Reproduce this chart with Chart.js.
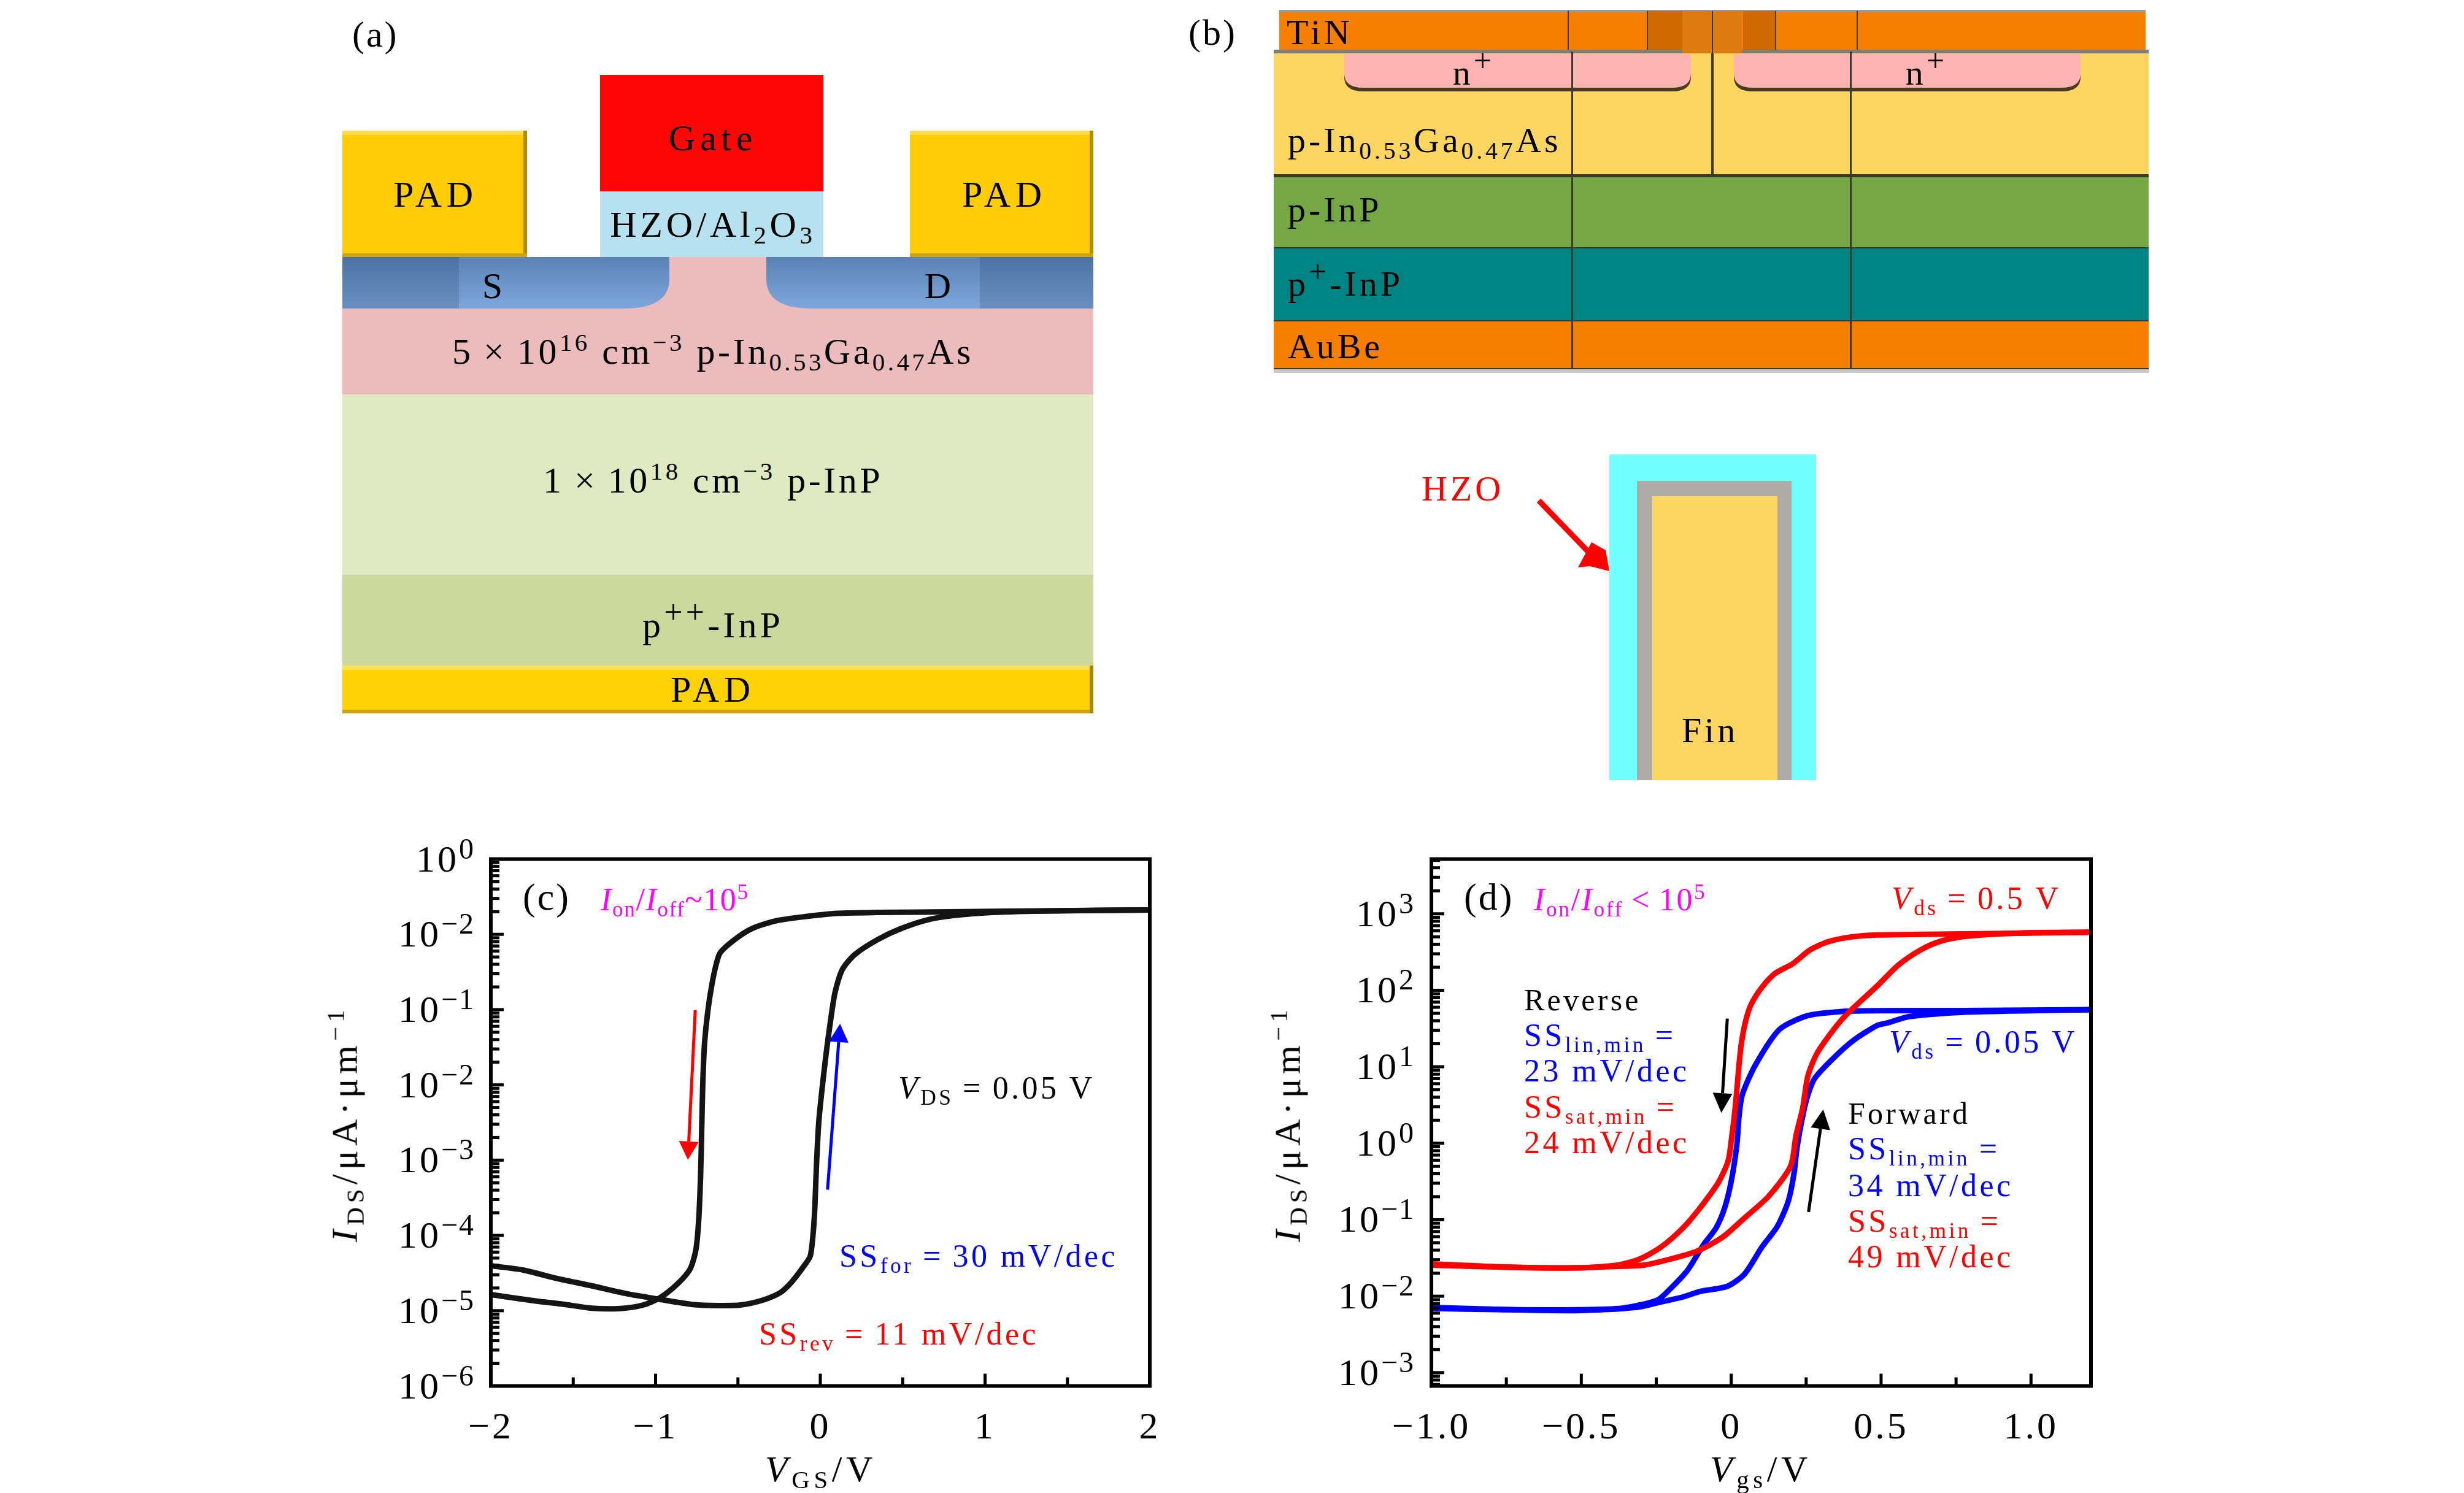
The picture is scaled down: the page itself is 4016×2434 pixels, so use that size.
<!DOCTYPE html>
<html lang="en">

<head>
    <meta charset="UTF-8">
    <title>HZO ferroelectric FinFET</title>
    <script src="https://cdn.jsdelivr.net/npm/chart.js"></script>
    <style>
        html, body { margin: 0; padding: 0; background: #fff; }
        #page { position: relative; width: 4016px; height: 2434px; overflow: hidden; font-family: "Liberation Serif", serif; }
        #page svg { position: absolute; left: 0; top: 0; }
        canvas { position: absolute; }
        .t { position: absolute; line-height: 1; white-space: nowrap; }
        .t sub, .t sup { font-size: 68%; line-height: 0; }
        .t sub { vertical-align: -0.28em; }
        .t sup { vertical-align: 0.52em; }
        .t sup.big { font-size: 90%; vertical-align: 0.42em; }
    </style>
</head>

<body>
    <div id="page">
        <svg width="4016" height="2434">
            <defs>
                <linearGradient id="sd" x1="0" y1="0" x2="0" y2="1">
                    <stop offset="0" stop-color="#5c82b4" />
                    <stop offset="1" stop-color="#7ca7de" />
                </linearGradient>
                <linearGradient id="sdEdge" x1="0" y1="0" x2="0" y2="1">
                    <stop offset="0" stop-color="#4e72a2" />
                    <stop offset="1" stop-color="#6a8fc2" />
                </linearGradient>
            </defs>

            <!-- panel a -->
            <rect x="558" y="419" width="1224" height="224" fill="#ecbcbc" />
            <rect x="558" y="643" width="1224" height="294" fill="#dfe9c2" />
            <rect x="558" y="937" width="1224" height="148" fill="#cbd99c" />
            <path d="M558,419 H1091 V455 Q1091,503 1017,503 H558 Z" fill="url(#sd)" />
            <path d="M1782,419 H1249 V455 Q1249,503 1323,503 H1782 Z" fill="url(#sd)" />
            <rect x="558" y="419" width="190" height="84" fill="url(#sdEdge)" />
            <rect x="1597" y="419" width="185" height="84" fill="url(#sdEdge)" />
            <rect x="978" y="122" width="364" height="190" fill="#ff0606" />
            <rect x="978" y="312" width="364" height="107" fill="#b7e1ee" />
            <rect x="558" y="213" width="301" height="206" fill="#ffcc05" />
            <rect x="558" y="213" width="301" height="7" fill="#ffdc50" />
            <rect x="853" y="213" width="6" height="206" fill="#b08c10" />
            <rect x="558" y="413" width="301" height="6" fill="#cfa410" />
            <rect x="1483" y="213" width="299" height="206" fill="#ffcc05" />
            <rect x="1483" y="213" width="299" height="7" fill="#ffdc50" />
            <rect x="1776" y="213" width="6" height="206" fill="#b08c10" />
            <rect x="1483" y="413" width="299" height="6" fill="#cfa410" />
            <rect x="558" y="1085" width="1224" height="78" fill="#ffd205" />
            <rect x="558" y="1085" width="1224" height="7" fill="#ffe050" />
            <rect x="558" y="1157" width="1224" height="6" fill="#cfa410" />
            <rect x="1776" y="1085" width="6" height="78" fill="#a8860f" />

            <!-- panel b -->
            <rect x="2076" y="601" width="1426" height="7" fill="#c8c8c8" />
            <rect x="2085" y="16" width="1412" height="65" fill="#f77f00" />
            <rect x="2085" y="16" width="1412" height="4" fill="#999" />
            <rect x="2685" y="18" width="57" height="63" fill="#d06a00" />
            <rect x="2841" y="18" width="53" height="63" fill="#d06a00" />
            <rect x="2076" y="81" width="1426" height="6" fill="#7d7d7d" />
            <rect x="2076" y="87" width="1426" height="199" fill="#fdd662" />
            <rect x="2076" y="286" width="1426" height="118" fill="#75a844" />
            <rect x="2076" y="404" width="1426" height="119" fill="#008383" />
            <rect x="2076" y="523" width="1426" height="78" fill="#f77f00" />
            <path d="M2191,92 H2756 V126 Q2756,149 2725,149 H2222 Q2191,149 2191,126 Z" fill="#4a3a20" />
            <path d="M2826,92 H3391 V126 Q3391,149 3360,149 H2857 Q2826,149 2826,126 Z" fill="#4a3a20" />
            <path d="M2191,88 H2756 V120 Q2756,143 2725,143 H2222 Q2191,143 2191,120 Z" fill="#ffb3b3" />
            <path d="M2826,88 H3391 V120 Q3391,143 3360,143 H2857 Q2826,143 2826,120 Z" fill="#ffb3b3" />
            <rect x="2742" y="18" width="97" height="69" fill="#dd7a10" />
            <g fill="#3a3a2a">
                <rect x="2555" y="18" width="2" height="63" />
                <rect x="2790" y="18" width="2" height="69" />
                <rect x="3026" y="18" width="2" height="63" />
                <rect x="2684" y="18" width="2" height="63" />
                <rect x="2893" y="18" width="2" height="63" />
                <rect x="2561" y="84" width="3" height="517" />
                <rect x="3015" y="84" width="3" height="517" />
                <rect x="2789" y="87" width="4" height="199" />
                <rect x="2076" y="284" width="1426" height="5" />
                <rect x="2076" y="403" width="1426" height="2" />
                <rect x="2076" y="522" width="1426" height="2" />
                <rect x="2076" y="600" width="1426" height="2" />
            </g>

            <!-- fin cross section -->
            <rect x="2623" y="741" width="337" height="531" fill="#6fffff" />
            <rect x="2668" y="784" width="252" height="488" fill="#aeaaa6" />
            <rect x="2693" y="809" width="204" height="463" fill="#fdd662" />
            <path d="M2508,816 L2594,905" stroke="#ff0000" stroke-width="9" />
            <path d="M2623,931 L2591,923 L2572,925 L2594,884 L2617,897 Z" fill="#ff0000" />
        </svg>
        <canvas id="chartC" width="1440" height="1094" style="left:500px;top:1340px"></canvas>
        <canvas id="chartD" width="1440" height="1094" style="left:2040px;top:1340px"></canvas>
    </div>

    <script>
        // panel c, one transfer curve swept both ways
        const cForwardX = [-2, -1.804, -1.596, -1.387, -1.179, -0.97, -0.762, -0.623, -0.484, -0.345, -0.241, -0.172, -0.102, -0.061, -0.043, -0.033, -0.023, -0.009, 0.012, 0.036, 0.064, 0.089, 0.134, 0.21, 0.349, 0.488, 0.662, 0.835, 1.043, 1.391, 2];
        const cForwardY = [3.95e-5, 3.47e-5, 2.67e-5, 2.14e-5, 1.69e-5, 1.41e-5, 1.2e-5, 1.17e-5, 1.19e-5, 1.39e-5, 1.75e-5, 2.43e-5, 3.85e-5, 5.33e-5, 1.1e-4, 2.4e-4, 8.9e-4, 3.29e-3, 9.4e-3, 2.67e-2, 7.6e-2, 0.167, 0.342, 0.541, 0.855, 1.19, 1.58, 1.8, 1.95, 2.05, 2.11];
        const cReverseX = [2, 1.391, 0.87, 0.349, 0.106, -0.102, -0.276, -0.415, -0.519, -0.606, -0.63, -0.658, -0.682, -0.703, -0.714, -0.72, -0.727, -0.738, -0.755, -0.79, -0.866, -0.97, -1.075, -1.214, -1.387, -1.561, -1.734, -2];
        const cReverseY = [2.11, 2.05, 2, 1.95, 1.9, 1.71, 1.5, 1.19, 0.855, 0.577, 0.416, 0.216, 0.0986, 0.0347, 9.4e-3, 2.53e-3, 6e-4, 1.62e-4, 6.49e-5, 3.6e-5, 2.28e-5, 1.5e-5, 1.19e-5, 1.07e-5, 1.08e-5, 1.22e-5, 1.35e-5, 1.64e-5];

        // panel d, Vds = 0.5 V
        const redForwardX = [-1, -0.685, -0.502, -0.379, -0.291, -0.204, -0.116, -0.029, 0.044, 0.125, 0.198, 0.216, 0.238, 0.256, 0.285, 0.329, 0.381, 0.488, 0.557, 0.63, 0.694, 0.776, 0.959, 1.2];
        const redForwardY = [0.0255, 0.0236, 0.0236, 0.0245, 0.0255, 0.0305, 0.0385, 0.059, 0.105, 0.203, 0.502, 1.25, 2.83, 7.64, 14.7, 26.3, 46.7, 115, 213, 334, 433, 505, 560, 574];
        const redReverseX = [1.2, 0.776, 0.6, 0.488, 0.402, 0.322, 0.263, 0.205, 0.147, 0.103, 0.066, 0.048, 0.034, 0.026, 0.019, 0.012, 0.001, -0.01, -0.043, -0.102, -0.16, -0.233, -0.306, -0.379, -0.511, -0.776, -1];
        const redReverseY = [574, 546, 536, 529, 499, 430, 337, 222, 167, 110, 64.9, 39.5, 20.4, 10.6, 5.04, 2.62, 1.15, 0.592, 0.306, 0.146, 0.0787, 0.0442, 0.0305, 0.0255, 0.0234, 0.0242, 0.0265];

        // panel d, Vds = 0.05 V
        const blueForwardX = [-1, -0.685, -0.502, -0.32, -0.247, -0.16, -0.102, -0.014, 0.044, 0.103, 0.154, 0.19, 0.209, 0.22, 0.238, 0.256, 0.278, 0.336, 0.409, 0.488, 0.521, 0.594, 0.776, 1.2];
        const blueForwardY = [0.00711, 0.00658, 0.0065, 0.00711, 0.00818, 0.0098, 0.0116, 0.0134, 0.0194, 0.0442, 0.082, 0.173, 0.392, 0.897, 2.22, 4.31, 7, 12.4, 22.3, 34.9, 37.4, 45.4, 51.6, 55.8];
        const blueReverseX = [1.2, 0.776, 0.488, 0.366, 0.256, 0.161, 0.081, 0.037, 0.026, 0.019, 0.001, -0.021, -0.05, -0.094, -0.145, -0.204, -0.247, -0.364, -0.511, -0.776, -1];
        const blueReverseY = [55.8, 54.3, 54, 52.7, 46.7, 30.8, 10.6, 4.31, 2.22, 0.97, 0.333, 0.146, 0.0787, 0.0461, 0.022, 0.0124, 0.00887, 0.00697, 0.00665, 0.00667, 0.00693];

        // axes. The c axis really prints 10^-2 twice, kept as in the figure
        const cXTicks = [-2, -1.5, -1, -0.5, 0, 0.5, 1, 1.5, 2];
        const cXLabels = ['\u22122', '', '\u22121', '', '0', '', '1', '', '2'];
        const cDecades = [10, 1, 0.1, 0.01, 1e-3, 1e-4, 1e-5, 1e-6];
        const cExponents = ['0', '\u22122', '\u22121', '\u22122', '\u22123', '\u22124', '\u22125', '\u22126'];
        const dXTicks = [-1, -0.75, -0.5, -0.25, 0, 0.25, 0.5, 0.75, 1];
        const dXLabels = ['\u22121.0', '', '\u22120.5', '', '0', '', '0.5', '', '1.0'];
        const dDecades = [1000, 100, 10, 1, 0.1, 0.01, 1e-3];
        const dExponents = ['3', '2', '1', '0', '\u22121', '\u22122', '\u22123'];

        const SERIF = '"Liberation Serif", serif';

        function zip(xs, ys) {
            return xs.map((x, i) => ({ x: x, y: ys[i] }));
        }

        function curve(xs, ys, color) {
            return {
                data: zip(xs, ys),
                showLine: true,
                borderColor: color,
                borderWidth: 9,
                pointRadius: 0,
                tension: 0.25,
                borderCapStyle: 'round',
                borderJoinStyle: 'round'
            };
        }

        function logTicks(decades, min, max) {
            const ticks = [];
            decades.forEach(d => {
                ticks.push({ value: d, major: true });
                for (let m = 2; m < 10; m++) {
                    const v = d * m;
                    if (v > min && v < max) ticks.push({ value: v, major: false });
                }
            });
            // one more decade of minors below the last labelled tick
            const low = decades[decades.length - 1] / 10;
            for (let m = 2; m < 10; m++) {
                if (low * m > min) ticks.push({ value: low * m, major: false });
            }
            return ticks;
        }

        // box, inward ticks, 10^n labels and the arrows, all from the scales
        const framePlugin = {
            id: 'frame',
            beforeDraw(chart) {
                chart.ctx.letterSpacing = '4px';
            },
            afterDraw(chart, args, opts) {
                const ctx = chart.ctx;
                const a = chart.chartArea;
                const xs = chart.scales.x;
                const ys = chart.scales.y;
                ctx.save();
                ctx.strokeStyle = '#000';
                ctx.lineWidth = 5;
                xs.ticks.forEach(t => {
                    const px = xs.getPixelForValue(t.value);
                    ctx.beginPath();
                    ctx.moveTo(px, a.bottom);
                    ctx.lineTo(px, a.bottom - (t.label ? 20 : 14));
                    ctx.stroke();
                });
                ys.ticks.forEach(t => {
                    const py = ys.getPixelForValue(t.value);
                    ctx.beginPath();
                    ctx.moveTo(a.left, py);
                    ctx.lineTo(a.left + (t.major ? 21 : 14), py);
                    ctx.stroke();
                    if (!t.major) return;
                    ctx.fillStyle = '#000';
                    ctx.textBaseline = 'alphabetic';
                    ctx.textAlign = 'right';
                    const right = a.left - opts.labelGap;
                    ctx.letterSpacing = '2px';
                    ctx.font = '48px ' + SERIF;
                    ctx.fillText(t.label, right, py - 1);
                    const w = ctx.measureText(t.label).width;
                    ctx.letterSpacing = '4px';
                    ctx.font = '62px ' + SERIF;
                    ctx.fillText('10', right - w, py + 20);
                });
                ctx.lineWidth = 6;
                ctx.strokeRect(a.left, a.top, a.right - a.left, a.bottom - a.top);

                opts.arrows.forEach(ar => {
                    const x1 = xs.getPixelForValue(ar.from[0]);
                    const y1 = ys.getPixelForValue(ar.from[1]);
                    const x2 = xs.getPixelForValue(ar.to[0]);
                    const y2 = ys.getPixelForValue(ar.to[1]);
                    const ang = Math.atan2(y2 - y1, x2 - x1);
                    const bx = x2 - ar.head * Math.cos(ang);
                    const by = y2 - ar.head * Math.sin(ang);
                    ctx.strokeStyle = ar.color;
                    ctx.fillStyle = ar.color;
                    ctx.lineWidth = ar.width;
                    ctx.beginPath();
                    ctx.moveTo(x1, y1);
                    ctx.lineTo(bx, by);
                    ctx.stroke();
                    ctx.beginPath();
                    ctx.moveTo(x2, y2);
                    ctx.lineTo(bx - ar.half * Math.sin(ang), by + ar.half * Math.cos(ang));
                    ctx.lineTo(bx + ar.half * Math.sin(ang), by - ar.half * Math.cos(ang));
                    ctx.closePath();
                    ctx.fill();
                });
                ctx.restore();
            }
        };

        function makeChart(id, datasets, cfg) {
            return new Chart(document.getElementById(id), {
                type: 'scatter',
                data: { datasets: datasets },
                plugins: [framePlugin],
                options: {
                    responsive: false,
                    animation: false,
                    layout: { padding: { top: 60.5, right: cfg.padRight, left: 0, bottom: 0 } },
                    plugins: {
                        legend: { display: false },
                        tooltip: { enabled: false },
                        frame: { arrows: cfg.arrows, labelGap: cfg.labelGap }
                    },
                    scales: {
                        x: {
                            type: 'linear',
                            min: cfg.xMin,
                            max: cfg.xMax,
                            grid: { display: false },
                            border: { display: false },
                            afterBuildTicks: s => { s.ticks = cfg.xTicks.map(v => ({ value: v })); },
                            afterFit: s => { s.height = 174.5; },
                            ticks: {
                                autoSkip: false,
                                maxRotation: 0,
                                padding: 24,
                                color: '#000',
                                font: { family: SERIF, size: 62 },
                                callback: (v, i) => cfg.xLabels[i]
                            }
                        },
                        y: {
                            type: 'logarithmic',
                            min: cfg.yMin,
                            max: cfg.yMax,
                            grid: { display: false },
                            border: { display: false },
                            afterBuildTicks: s => { s.ticks = logTicks(cfg.decades, cfg.yMin, cfg.yMax); },
                            afterFit: s => { s.width = cfg.axisWidth; },
                            ticks: {
                                display: false,
                                autoSkip: false,
                                callback: v => {
                                    const i = cfg.decades.indexOf(v);
                                    return i >= 0 ? cfg.exponents[i] : '';
                                }
                            }
                        }
                    }
                }
            });
        }

        makeChart('chartC', [
            curve(cForwardX, cForwardY, '#141414'),
            curve(cReverseX, cReverseY, '#141414')
        ], {
            xMin: -2, xMax: 2, yMin: 1e-6, yMax: 10,
            xTicks: cXTicks, xLabels: cXLabels, decades: cDecades, exponents: cExponents,
            axisWidth: 300, padRight: 66, labelGap: 26,
            arrows: [
                { from: [-0.759, 0.0986], to: [-0.804, 1.01e-3], color: '#ff0000', width: 5, head: 30, half: 16 },
                { from: [0.044, 4.05e-4], to: [0.12, 0.0649], color: '#0000ff', width: 5, head: 30, half: 16 }
            ]
        });

        makeChart('chartD', [
            curve(redForwardX, redForwardY, '#ff0000'),
            curve(redReverseX, redReverseY, '#ff0000'),
            curve(blueForwardX, blueForwardY, '#0000ff'),
            curve(blueReverseX, blueReverseY, '#0000ff')
        ], {
            xMin: -1, xMax: 1.2, yMin: 6.7e-4, yMax: 5200,
            xTicks: dXTicks, xLabels: dXLabels, decades: dDecades, exponents: dExponents,
            axisWidth: 293, padRight: 72, labelGap: 27,
            arrows: [
                { from: [-0.013, 42.6], to: [-0.033, 2.5], color: '#000', width: 5, head: 32, half: 16 },
                { from: [0.258, 0.126], to: [0.307, 2.77], color: '#000', width: 5, head: 32, half: 16 }
            ]
        });

        // all the text that sits around and on top of the plots
        const page = document.getElementById('page');

        function label(x, base, size, color, html, anchor, spacing) {
            const el = document.createElement('div');
            el.className = 't';
            el.innerHTML = html;
            el.style.left = x + 'px';
            el.style.top = (base - 0.84 * size) + 'px';
            el.style.fontSize = size + 'px';
            el.style.color = color;
            el.style.letterSpacing = (spacing || 0.085) + 'em';
            if (anchor === 'center') el.style.transform = 'translateX(-50%)';
            if (anchor === 'up') {
                el.style.top = base + 'px';
                el.style.transformOrigin = '0 0';
                el.style.transform = 'rotate(-90deg) translate(-50%, ' + (-0.84 * size) + 'px)';
            }
            page.appendChild(el);
        }

        const RED = '#ff0000';
        const BLUE = '#0000ff';
        const PINK = '#ff00ff';
        const BLACK = '#000';

        label(574, 76, 60, BLACK, '(a)', null, 0.05);
        label(1162, 245, 60, BLACK, 'Gate', 'center', 0.13);
        label(710, 337, 60, BLACK, 'PAD', 'center', 0.13);
        label(1637, 337, 60, BLACK, 'PAD', 'center', 0.13);
        label(1162, 386, 60, BLACK, 'HZO/Al<sub>2</sub>O<sub>3</sub>', 'center', 0.095);
        label(805, 486, 60, BLACK, 'S', 'center');
        label(1531, 486, 60, BLACK, 'D', 'center');
        label(1162, 593, 60, BLACK, '5&thinsp;×&thinsp;10<sup>16</sup> cm<sup>−3</sup> p-In<sub>0.53</sub>Ga<sub>0.47</sub>As', 'center', 0.075);
        label(1162, 803, 60, BLACK, '1&thinsp;×&thinsp;10<sup>18</sup> cm<sup>−3</sup> p-InP', 'center', 0.075);
        label(1162, 1039, 60, BLACK, 'p<sup class="big">++</sup>-InP', 'center');
        label(1162, 1144, 60, BLACK, 'PAD', 'center', 0.13);

        label(1937, 73, 60, BLACK, '(b)', null, 0.05);
        label(2097, 73, 58, BLACK, 'TiN', null, 0.1);
        label(2402, 139, 58, BLACK, 'n<sup class="big">+</sup>', 'center');
        label(3140, 139, 58, BLACK, 'n<sup class="big">+</sup>', 'center');
        label(2099, 249, 58, BLACK, 'p-In<sub>0.53</sub>Ga<sub>0.47</sub>As');
        label(2099, 362, 58, BLACK, 'p-InP');
        label(2099, 483, 58, BLACK, 'p<sup class="big">+</sup>-InP');
        label(2099, 585, 58, BLACK, 'AuBe');
        label(2317, 817, 58, RED, 'HZO');
        label(2787, 1211, 58, BLACK, 'Fin', 'center');

        label(852, 1483, 62, BLACK, '(c)', null, 0.05);
        label(979, 1485, 52, PINK, '<i>I</i><sub>on</sub>/<i>I</i><sub>off</sub>~10<sup>5</sup>', null, 0.03);
        label(1464, 1792, 52, BLACK, '<i>V</i><sub>DS</sub>&thinsp;=&thinsp;0.05 V');
        label(1368, 2066, 52, BLUE, 'SS<sub>for</sub>&thinsp;=&thinsp;30 mV/dec');
        label(1237, 2193, 52, RED, 'SS<sub>rev</sub>&thinsp;=&thinsp;11 mV/dec');
        label(582, 1832, 60, BLACK, '<i>I</i><sub>DS</sub>/μA·μm<sup>−1</sup>', 'up', 0.12);
        label(1338, 2415, 60, BLACK, '<i>V</i><sub>GS</sub>/V', 'center', 0.11);

        label(2386, 1483, 62, BLACK, '(d)', null, 0.05);
        label(2500, 1485, 52, PINK, '<i>I</i><sub>on</sub>/<i>I</i><sub>off</sub>&thinsp;&lt;&thinsp;10<sup>5</sup>', null, 0.05);
        label(3083, 1483, 52, RED, '<i>V</i><sub>ds</sub>&thinsp;=&thinsp;0.5 V');
        label(3079, 1717, 52, BLUE, '<i>V</i><sub>ds</sub>&thinsp;=&thinsp;0.05 V');
        label(2484, 1647, 50, BLACK, 'Reverse');
        label(2484, 1706, 52, BLUE, 'SS<sub>lin,min</sub>&thinsp;=');
        label(2484, 1764, 52, BLUE, '23 mV/dec');
        label(2484, 1823, 52, RED, 'SS<sub>sat,min</sub>&thinsp;=');
        label(2484, 1881, 52, RED, '24 mV/dec');
        label(3012, 1832, 50, BLACK, 'Forward');
        label(3012, 1891, 52, BLUE, 'SS<sub>lin,min</sub>&thinsp;=');
        label(3012, 1951, 52, BLUE, '34 mV/dec');
        label(3012, 2009, 52, RED, 'SS<sub>sat,min</sub>&thinsp;=');
        label(3012, 2067, 52, RED, '49 mV/dec');
        label(2119, 1832, 60, BLACK, '<i>I</i><sub>DS</sub>/μA·μm<sup>−1</sup>', 'up', 0.12);
        label(2870, 2415, 60, BLACK, '<i>V</i><sub>gs</sub>/V', 'center', 0.11);
    </script>
</body>

</html>
